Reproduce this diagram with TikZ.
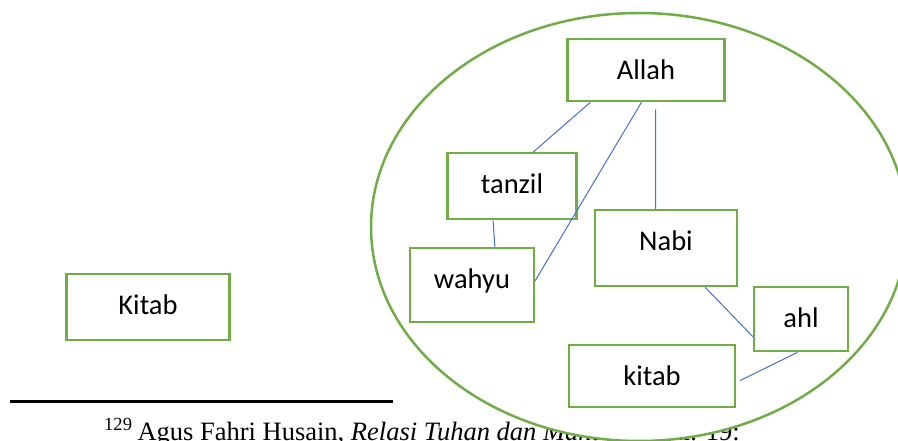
\documentclass[tikz,border=0pt]{standalone}
\usepackage{fontspec}
\setmainfont{Liberation Serif}
\newfontfamily\boxfont{Carlito}
\usepackage{tikz}
\usetikzlibrary{positioning,calc}
\definecolor{ringgreen}{HTML}{70AD47}
\definecolor{linkblue}{HTML}{4472C4}
\definecolor{ink}{HTML}{000000}
\tikzset{
  conceptbox/.style={
    draw=ringgreen, fill=white, line width=2.3pt, anchor=north,
    inner xsep=0pt, inner ysep=0pt, text height=40pt,
    font=\boxfont\fontsize{28.5}{30}\selectfont
  },
  groupring/.style={draw=ringgreen, fill=white, line width=2.5pt},
  linkline/.style={draw=linkblue, line width=1pt},
  footrule/.style={draw=ink, line width=3pt},
  footnotetext/.style={
    anchor=base west, inner sep=0pt, text=ink,
    font=\fontsize{26.5}{30}\selectfont
  }
}

\begin{document}
\begin{tikzpicture}[x=1pt,y=-1pt]
  \useasboundingbox (0,0) rectangle (898,441);
  \clip (0,0) rectangle (898,441);
  % footnote, partly under the ring
  \draw[footrule] (10,401) -- (393,401);
  \node[footnotetext] (note) at (104,440)
    {\textsuperscript{129}\kern5pt Agus Fahri Husain, \textit{Relasi Tuhan dan Manusia}, hlm. 19:};
  % ring round the related terms
  \draw[groupring] (639,227) ellipse [x radius=268pt, y radius=214pt];
  % terms
  \node[conceptbox, minimum width=163pt, text depth=26pt] (kitabout) at (148,273) {Kitab};
  \node[conceptbox, minimum width=157pt, text depth=22pt] (allah) at (646,38) {Allah};
  \node[conceptbox, minimum width=129pt, text depth=26pt] (tanzil) at (512,152) {tanzil};
  \node[conceptbox, minimum width=124pt, text depth=34pt] (wahyu) at (472,247) {wahyu};
  \node[conceptbox, minimum width=142pt, text depth=36pt] (nabi) at (666,209) {Nabi};
  \node[conceptbox, minimum width=94pt, text depth=24pt] (ahl) at (801,286) {ahl};
  \node[conceptbox, minimum width=166pt, text depth=22pt] (kitab) at (652,344) {kitab};
  % links
  \draw[linkline] (allah.210) -- (tanzil.58);
  \draw[linkline] (allah.262) -- (wahyu.4);
  \draw[linkline] (tanzil.241) -- (wahyu.59);
  \draw[linkline] ([xshift=9.7pt,yshift=-7pt]allah.south) -- ([xshift=-10.5pt]nabi.north);
  \draw[linkline] (nabi.-45) -- (ahl.200);
  \draw[linkline] (ahl.264) -- ([xshift=4pt]kitab.-3);
\end{tikzpicture}
\end{document}
